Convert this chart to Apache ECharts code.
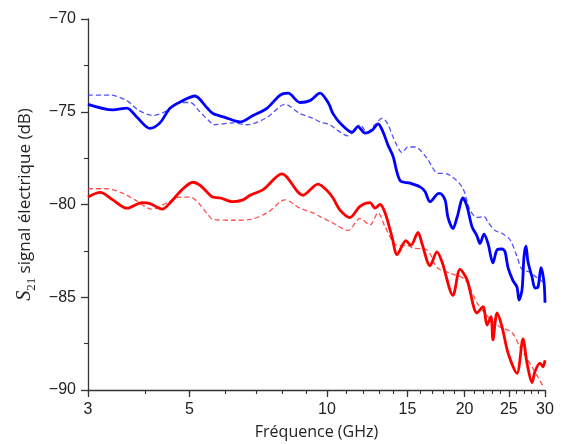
<!DOCTYPE html>
<html><head><meta charset="utf-8">
<script src="https://cdn.jsdelivr.net/npm/echarts@6/dist/echarts.min.js"></script>
<style>html,body{margin:0;padding:0;background:#fff}#c{width:562px;height:444px}</style>
</head><body><div id="c"></div>
<script>
// Frequencies (GHz) and S21 values (dB)
const blueSolidF = [3.00,3.40,3.65,3.84,4.10,4.31,4.54,4.84,5.14,5.47,5.63,5.98,6.45,6.89,7.40,7.90,8.22,8.73,9.18,9.66,10.0,10.15,10.31,10.68,11.35,11.69,12.11,12.55,12.94,13.27,13.60,13.95,14.45,15.20,15.98,16.39,16.81,17.41,17.67,18.13,18.40,18.87,19.26,19.85,20.25,20.77,21.30,21.62,22.06,22.51,23.08,23.56,24.16,24.53,24.90,25.53,26.05,26.32,26.72,26.99,27.26,27.54,28.10,28.52,28.96,29.40,29.85,30.0];
const blueSolidV = [-74.6,-74.9,-74.8,-75.3,-75.9,-75.6,-74.8,-74.4,-74.15,-74.8,-75.1,-75.3,-75.55,-75.2,-74.8,-74.1,-74.0,-74.5,-74.4,-74.0,-74.4,-74.7,-75.1,-75.6,-76.1,-75.8,-76.15,-76.0,-75.65,-76.1,-76.8,-77.4,-78.7,-78.85,-79.05,-79.3,-79.85,-79.45,-79.4,-79.75,-80.7,-81.3,-80.7,-79.65,-80.1,-81.2,-81.7,-82.1,-81.6,-82.1,-83.15,-82.45,-82.4,-82.55,-83.4,-84.1,-84.45,-85.15,-84.6,-82.8,-82.25,-83.1,-83.9,-84.5,-84.45,-83.4,-84.2,-85.3];
const blueDashF = [3.0,3.35,3.65,3.86,4.16,4.42,4.77,5.02,5.27,5.55,5.63,6.23,6.69,7.40,8.10,8.73,9.32,9.66,10.15,10.41,11.12,11.81,12.23,12.74,13.20,13.54,14.09,14.60,15.04,15.59,16.55,17.41,18.31,19.75,20.56,21.30,22.06,22.51,23.32,24.16,25.15,26.05,26.72,27.82,28.82,29.85];
const blueDashV = [-74.1,-74.1,-74.4,-74.9,-75.2,-75.0,-74.5,-74.5,-75.0,-75.55,-75.7,-75.6,-75.7,-75.3,-74.6,-75.1,-75.35,-75.55,-75.7,-75.9,-76.3,-75.7,-76.1,-75.7,-75.35,-75.6,-76.6,-77.2,-76.9,-76.9,-77.5,-78.3,-78.35,-79.05,-80.3,-80.7,-80.65,-80.95,-81.4,-81.55,-81.9,-82.8,-83.5,-83.65,-83.95,-84.2];
const redSolidF = [3.0,3.19,3.40,3.65,3.94,4.10,4.36,4.54,4.82,5.09,5.27,5.55,5.63,5.84,6.23,6.55,6.79,7.25,7.97,8.86,9.56,10.05,10.31,10.68,11.23,11.81,12.42,12.74,13.06,13.40,13.88,14.24,14.89,15.27,15.82,16.14,16.81,17.41,17.86,18.87,19.55,20.25,21.30,21.95,22.40,22.85,23.08,23.56,24.16,24.90,26.05,26.85,27.40,28.10,28.52,29.26,29.70,30.0];
const redSolidV = [-79.6,-79.35,-79.75,-80.2,-79.9,-79.95,-80.25,-79.9,-79.2,-78.8,-78.95,-79.5,-79.6,-79.65,-79.85,-79.75,-79.5,-79.2,-78.35,-79.5,-78.9,-79.3,-79.65,-80.3,-80.7,-80.1,-79.9,-80.2,-80.0,-80.45,-81.75,-82.7,-81.95,-82.2,-81.5,-82.1,-83.3,-82.55,-83.1,-84.9,-83.5,-84.05,-85.85,-85.5,-86.5,-86.05,-87.3,-85.85,-86.6,-88.0,-89.1,-87.25,-88.55,-89.6,-89.0,-88.55,-88.75,-88.4];
const redDashF = [3.0,3.30,3.58,3.80,4.14,4.47,4.77,5.02,5.27,5.49,5.63,6.23,6.79,7.40,8.10,8.73,9.32,9.66,10.31,11.12,11.81,12.42,12.94,13.40,14.24,14.97,15.43,16.55,17.41,18.59,20.05,21.30,22.51,23.91,25.41,26.45,28.10,28.96,29.85];
const redDashV = [-79.15,-79.15,-79.4,-79.75,-80.25,-79.9,-79.6,-79.6,-80.0,-80.55,-80.8,-80.85,-80.8,-80.45,-79.75,-80.2,-80.45,-80.65,-81.0,-81.4,-80.75,-81.1,-80.45,-81.2,-82.2,-82.2,-82.35,-82.45,-83.4,-83.7,-84.05,-85.3,-86.05,-86.6,-86.9,-87.7,-88.75,-89.3,-89.9];
const xTickLabels = [3,5,10,15,20,25,30];
const xMinorTicks = [3,4,5,6,7,8,9,10,11,12,13,14,15,16,17,18,19,20,21,22,23,24,25,26,27,28,29,30];
const yTicks = [-90,-85,-80,-75,-70];

const pair = (f, v) => f.map((x, i) => [x, v[i]]);
const axisCol = '#333';
const chart = echarts.init(document.getElementById('c'), null, {renderer: 'canvas'});
chart.setOption({
  animation: false,
  grid: {left: 88, right: 17, top: 19, bottom: 54, outerBoundsMode: 'none', containLabel: false},
  xAxis: [{
    type: 'log', logBase: 10, min: 3, max: 30,
    name: 'Fréquence (GHz)', nameLocation: 'middle', nameGap: 34,
    nameTextStyle: {fontFamily: 'Open Sans', fontSize: 16, color: '#222'},
    axisLine: {lineStyle: {color: axisCol, width: 1.3}},
    axisTick: {show: true, inside: false, length: 7, customValues: xTickLabels, lineStyle: {color: axisCol, width: 1.3}},
    axisLabel: {customValues: xTickLabels, formatter: v => String(Math.round(v)), fontFamily: 'Liberation Sans', fontSize: 16, color: '#222', margin: 12},
    splitLine: {show: false}, minorTick: {show: false}
  }, {
    type: 'log', logBase: 10, min: 3, max: 30, position: 'bottom',
    axisLine: {show: false},
    axisTick: {show: true, inside: false, length: 4, customValues: xMinorTicks, lineStyle: {color: axisCol, width: 1.1}},
    axisLabel: {show: false}, splitLine: {show: false}
  }],
  yAxis: {
    type: 'value', min: yTicks[0], max: yTicks[yTicks.length - 1], interval: 5,
    name: '{s|S}{sub|21}{t| signal électrique (dB)}', nameLocation: 'middle', nameRotate: 90, nameGap: 48,
    nameTextStyle: {
      fontFamily: 'Open Sans', fontSize: 17, color: '#222',
      rich: {
        s: {fontFamily: 'Liberation Serif', fontStyle: 'italic', fontSize: 20, color: '#222', verticalAlign: 'middle', lineHeight: 26},
        sub: {fontFamily: 'Liberation Serif', fontSize: 13, color: '#222', verticalAlign: 'bottom', lineHeight: 15},
        t: {fontFamily: 'Open Sans', fontSize: 17, color: '#222', verticalAlign: 'middle', lineHeight: 26}
      }
    },
    axisLine: {show: true, lineStyle: {color: axisCol, width: 1.3}},
    axisTick: {show: true, inside: false, length: 7, lineStyle: {color: axisCol, width: 1.3}},
    minorTick: {show: true, splitNumber: 2, length: 4, lineStyle: {color: axisCol, width: 1.1}},
    axisLabel: {formatter: v => (v < 0 ? '\u2212' : '') + Math.abs(v), fontFamily: 'Liberation Sans', fontSize: 16, color: '#222', margin: 12},
    splitLine: {show: false}
  },
  series: [
    {type: 'line', data: pair(blueDashF, blueDashV), smooth: 0.3, showSymbol: false, lineStyle: {color: '#3333ff', width: 1.3, type: [5, 3], opacity: 0.85}, z: 2},
    {type: 'line', data: pair(redDashF, redDashV), smooth: 0.3, showSymbol: false, lineStyle: {color: '#ff3333', width: 1.3, type: [5, 3], opacity: 0.85}, z: 2},
    {type: 'line', data: pair(blueSolidF, blueSolidV), smooth: 0.3, showSymbol: false, lineStyle: {color: '#0000ff', width: 2.8}, z: 3},
    {type: 'line', data: pair(redSolidF, redSolidV), smooth: 0.3, showSymbol: false, lineStyle: {color: '#ff0000', width: 2.8}, z: 3}
  ]
});
</script></body></html>
